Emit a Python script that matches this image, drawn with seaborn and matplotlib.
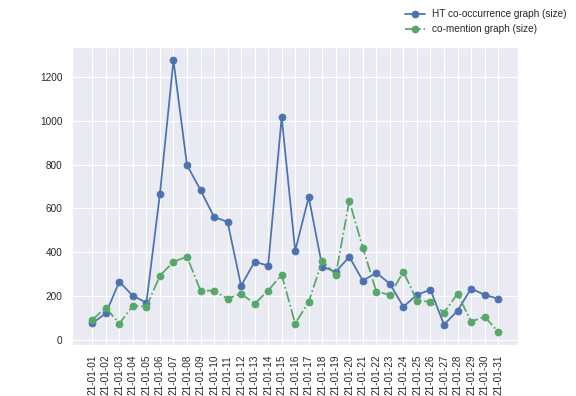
import matplotlib
matplotlib.use("Agg")
import matplotlib.pyplot as plt
import seaborn as sns

# data
dates = ["21-01-%02d" % d for d in range(1, 32)]
ht_size = [75, 120, 265, 200, 169, 666, 1277, 798, 684, 561, 538, 246, 356, 338, 1017, 406,
           652, 333, 310, 379, 269, 306, 255, 150, 205, 228, 68, 132, 233, 205, 187]
mention_size = [91, 146, 73, 155, 151, 292, 356, 379, 224, 224, 187, 210, 164, 224, 297, 73,
                173, 360, 297, 634, 420, 219, 205, 310, 178, 173, 123, 210, 82, 105, 36]

sns.set_theme(style="darkgrid", palette="deep")
plt.rcParams["font.family"] = ["Liberation Sans", "DejaVu Sans"]
plt.rcParams["xtick.labelsize"] = 10
plt.rcParams["ytick.labelsize"] = 10

colors = sns.color_palette("deep")
fig, ax = plt.subplots(figsize=(8, 5.5), dpi=72)

sns.lineplot(x=dates, y=ht_size, ax=ax, color=colors[0], marker="o", markersize=7,
             markeredgecolor=colors[0], linewidth=1.75, label="HT co-occurrence graph (size)")
sns.lineplot(x=dates, y=mention_size, ax=ax, color=colors[2], marker="o", markersize=7,
             markeredgecolor=colors[2], linewidth=1.75, linestyle="-.",
             label="co-mention graph (size)")

ax.set_yticks([0, 200, 400, 600, 800, 1000, 1200])
plt.xticks(rotation=90)
ax.legend_.remove()
fig.legend(loc="upper right", frameon=False, fontsize=10)
fig.subplots_adjust(left=0.125, right=0.9, top=0.882, bottom=0.128)
fig.savefig("out.png", dpi=72)
